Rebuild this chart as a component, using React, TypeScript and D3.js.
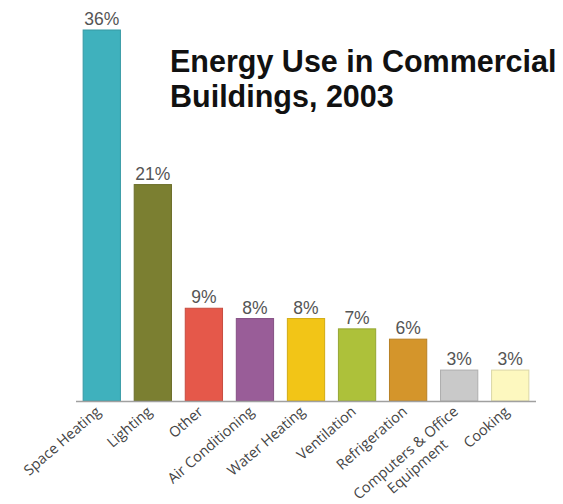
import * as d3 from "d3";
import { useRef, useEffect } from "react";

const categories: string[] = [
  "Space Heating",
  "Lighting",
  "Other",
  "Air Conditioning",
  "Water Heating",
  "Ventilation",
  "Refrigeration",
  "Computers & Office|Equipment",
  "Cooking",
];
const shares: number[] = [36, 21, 9, 8, 8, 7, 6, 3, 3];
const barColors: string[] = [
  "#3fb1bd",
  "#7b7f31",
  "#e5584a",
  "#995d98",
  "#f2c517",
  "#adc13a",
  "#d4952b",
  "#c9c9c9",
  "#fdf8bf",
];
const titleLines: string[] = ["Energy Use in Commercial", "Buildings, 2003"];

export default function App() {
  const width = 563;
  const height = 504;
  const baseline = 401;
  const ref = useRef<SVGSVGElement>(null);

  useEffect((): void => {
    if (!ref.current) return;
    const svg = d3.select(ref.current);
    svg.selectAll("*").remove();

    const x = d3
      .scaleBand<string>()
      .domain(categories)
      .range([76, 536])
      .paddingInner(0.27)
      .paddingOuter(0.14);

    const y = d3.scaleLinear().domain([0, 36]).range([baseline, 30]);

    // bars
    svg
      .append("g")
      .selectAll("rect")
      .data(shares)
      .join("rect")
      .attr("x", (_, i) => x(categories[i]) as number)
      .attr("y", (d) => y(d))
      .attr("width", x.bandwidth())
      .attr("height", (d) => baseline - y(d))
      .attr("fill", (_, i) => barColors[i])
      .attr("stroke", (_, i) => d3.color(barColors[i])!.darker(0.4).formatHex())
      .attr("stroke-width", 1);

    // value labels
    svg
      .append("g")
      .selectAll("text")
      .data(shares)
      .join("text")
      .attr("x", (_, i) => (x(categories[i]) as number) + x.bandwidth() / 2)
      .attr("y", (d) => y(d) - 5)
      .attr("text-anchor", "middle")
      .attr("font-family", "Liberation Sans, Arial, sans-serif")
      .attr("font-size", 17.5)
      .attr("fill", "#555")
      .text((d) => `${d}%`);

    // baseline
    svg
      .append("line")
      .attr("x1", x.range()[0])
      .attr("x2", x.range()[1])
      .attr("y1", baseline + 0.5)
      .attr("y2", baseline + 0.5)
      .attr("stroke", "#a0a0a0")
      .attr("stroke-width", 1.5);

    // category labels, rotated
    const labels = svg
      .append("g")
      .selectAll("text")
      .data(categories)
      .join("text")
      .attr(
        "transform",
        (d) => `translate(${(x(d) as number) + x.bandwidth() / 2}, ${baseline + 12}) rotate(-41)`,
      )
      .attr("text-anchor", "end")
      .attr("font-family", "Open Sans, sans-serif")
      .attr("font-size", 14.5)
      .attr("fill", "#444");

    labels.each(function (d) {
      const parts = d.split("|");
      const t = d3.select(this);
      const spans = parts.map((p, j) =>
        t.append("tspan").attr("x", 0).attr("dy", j === 0 ? 0 : 18).text(p),
      );
      // centre the following lines under the first one
      if (spans.length > 1) {
        const w0 = (spans[0].node() as SVGTSpanElement).getComputedTextLength();
        spans.slice(1).forEach((s) => {
          const w = (s.node() as SVGTSpanElement).getComputedTextLength();
          s.attr("x", -(w0 - w) / 2);
        });
      }
    });

    // title
    svg
      .append("g")
      .selectAll("text")
      .data(titleLines)
      .join("text")
      .attr("x", 170)
      .attr("y", (_, i) => 72 + i * 35)
      .attr("font-family", "Liberation Sans, Arial, sans-serif")
      .attr("font-weight", "bold")
      .attr("font-size", 30.5)
      .attr("fill", "#111")
      .text((d) => d);
  }, []);

  return (
    <svg
      ref={ref}
      width={width}
      height={height}
      style={{ position: "absolute", left: 0, top: 0, background: "#fff" }}
    />
  );
}
